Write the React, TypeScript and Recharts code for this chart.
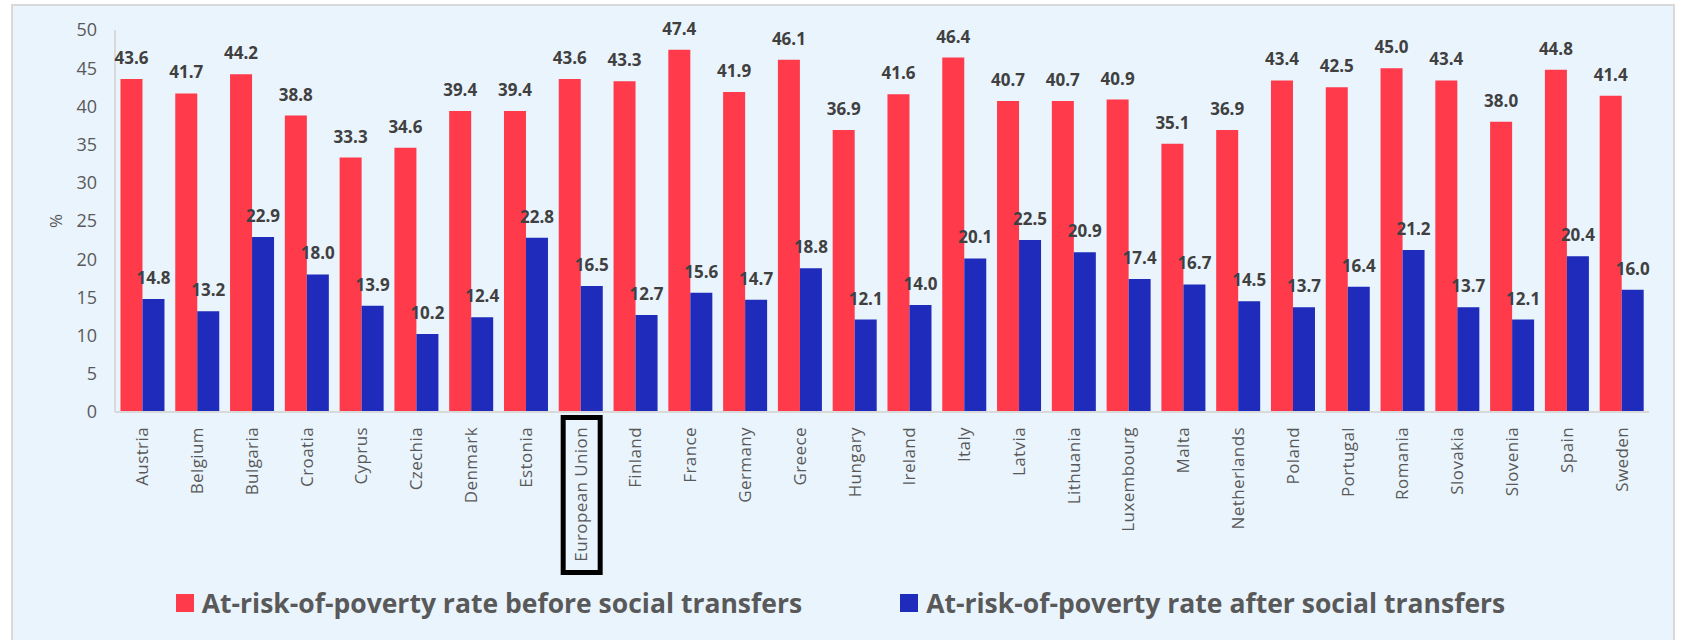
import React from "react";
import { BarChart, Bar, XAxis, YAxis, Legend, LabelList } from "recharts";

const countries = [
  "Austria", "Belgium", "Bulgaria", "Croatia", "Cyprus", "Czechia", "Denmark",
  "Estonia", "European Union", "Finland", "France", "Germany", "Greece", "Hungary",
  "Ireland", "Italy", "Latvia", "Lithuania", "Luxembourg", "Malta", "Netherlands",
  "Poland", "Portugal", "Romania", "Slovakia", "Slovenia", "Spain", "Sweden",
];

const beforeTransfers = [
  43.6, 41.7, 44.2, 38.8, 33.3, 34.6, 39.4, 39.4, 43.6, 43.3, 47.4, 41.9, 46.1, 36.9,
  41.6, 46.4, 40.7, 40.7, 40.9, 35.1, 36.9, 43.4, 42.5, 45.0, 43.4, 38.0, 44.8, 41.4,
];

const afterTransfers = [
  14.8, 13.2, 22.9, 18.0, 13.9, 10.2, 12.4, 22.8, 16.5, 12.7, 15.6, 14.7, 18.8, 12.1,
  14.0, 20.1, 22.5, 20.9, 17.4, 16.7, 14.5, 13.7, 16.4, 21.2, 13.7, 12.1, 20.4, 16.0,
];

const yTicks = [0, 5, 10, 15, 20, 25, 30, 35, 40, 45, 50];

const seriesNames = {
  before: "At-risk-of-poverty rate before social transfers",
  after: "At-risk-of-poverty rate after social transfers",
};

const RED = "#FE3A4B";
const BLUE = "#1F2BBB";
const TEXT = "#595959";
const FONT = "'Open Sans', 'Noto Sans', sans-serif";

const data = countries.map((country, i) => ({
  country,
  before: beforeTransfers[i],
  after: afterTransfers[i],
}));

const CountryTick = (props: any) => {
  const { x, payload } = props;
  const isEU = payload.value === "European Union";
  const top = 427;
  return (
    <g transform={`translate(${x},${top})`}>
      {isEU && (
        <rect x={-17.5} y={-9.5} width={37} height={155} fill="none" stroke="#000" strokeWidth={5} />
      )}
      <text
        transform="rotate(-90)"
        x={0}
        y={0}
        dy="0.35em"
        textAnchor="end"
        fill={TEXT}
        fontSize={17}
        letterSpacing={0.4}
        fontFamily={FONT}
      >
        {payload.value}
      </text>
    </g>
  );
};

const PercentLabel = () => (
  <text
    x={55}
    y={221}
    transform="rotate(-90 55 221)"
    textAnchor="middle"
    dominantBaseline="central"
    fill={TEXT}
    fontSize={17}
    fontFamily={FONT}
  >
    %
  </text>
);

const LegendContent = () => (
  <div
    style={{
      display: "flex",
      justifyContent: "center",
      gap: 98,
      fontFamily: FONT,
      fontWeight: 700,
      fontSize: 26.5,
      color: TEXT,
    }}
  >
    {[
      { name: seriesNames.before, color: RED },
      { name: seriesNames.after, color: BLUE },
    ].map((item) => (
      <div key={item.name} style={{ display: "flex", alignItems: "center" }}>
        <span style={{ width: 18, height: 18, background: item.color, marginRight: 8 }} />
        <span>{item.name}</span>
      </div>
    ))}
  </div>
);

export default function App() {
  return (
    <div style={{ position: "absolute", left: 0, top: 0, width: 1681, height: 640, overflow: "hidden" }}>
      <div
        style={{
          position: "absolute",
          left: 11,
          top: 4,
          width: 1660,
          height: 660,
          background: "#EAF4FD",
          border: "2px solid #D9D9D9",
        }}
      />
      <div style={{ position: "absolute", left: 0, top: 0 }}>
        <BarChart
          width={1681}
          height={640}
          data={data}
          margin={{ top: 30, right: 32, left: 55, bottom: 58 }}
          barGap={0}
          barCategoryGap="10%"
        >
          <XAxis
            dataKey="country"
            interval={0}
            height={170}
            tick={<CountryTick />}
            tickLine={false}
            axisLine={{ stroke: "#D9D9D9", strokeWidth: 2 }}
          />
          <YAxis
            width={60}
            domain={[0, 50]}
            ticks={yTicks}
            tickLine={false}
            tickMargin={12}
            axisLine={{ stroke: "#D9D9D9", strokeWidth: 2 }}
            tick={{ fill: TEXT, fontSize: 18, fontFamily: FONT }}
            label={<PercentLabel />}
          />
          <Legend
            layout="horizontal"
            verticalAlign="middle"
            align="center"
            wrapperStyle={{ top: 585, left: 0, width: 1681 }}
            content={<LegendContent />}
          />
          <Bar dataKey="before" name={seriesNames.before} fill={RED} isAnimationActive={false}>
            <LabelList
              dataKey="before"
              position="top"
              offset={15}
              formatter={(v: any) => Number(v).toFixed(1)}
              fill="#404040"
              fontSize={17}
              fontWeight={700}
              fontFamily={FONT}
            />
          </Bar>
          <Bar dataKey="after" name={seriesNames.after} fill={BLUE} isAnimationActive={false}>
            <LabelList
              dataKey="after"
              position="top"
              offset={15}
              formatter={(v: any) => Number(v).toFixed(1)}
              fill="#404040"
              fontSize={17}
              fontWeight={700}
              fontFamily={FONT}
            />
          </Bar>
        </BarChart>
      </div>
    </div>
  );
}
